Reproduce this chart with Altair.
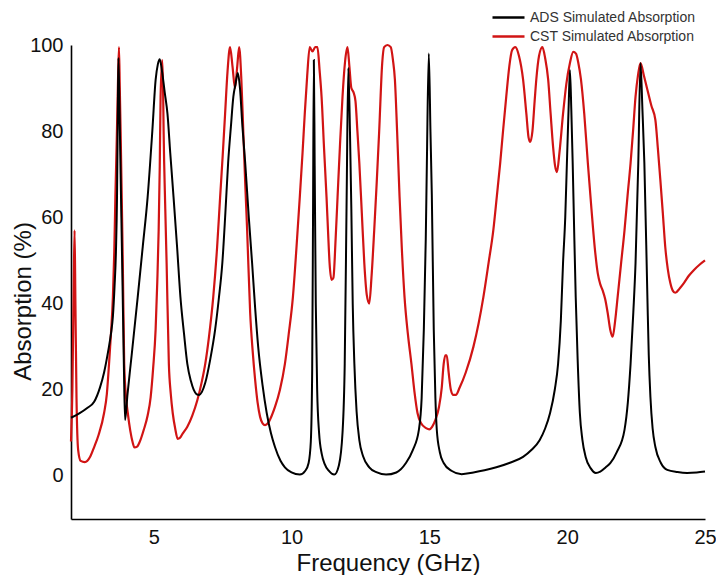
import altair as alt
import pandas as pd

ads_x = [2.0, 2.3, 2.6, 2.84, 3.05, 3.2, 3.35, 3.45, 3.52, 3.58, 3.63, 3.67, 3.7, 3.72, 3.76, 3.8, 3.86, 3.92, 3.96,
         4.05, 4.2, 4.42, 4.6, 4.78, 4.95, 5.07, 5.15, 5.22, 5.3, 5.4, 5.5, 5.6, 5.72, 5.85, 5.97, 6.1, 6.22,
         6.35, 6.45, 6.55, 6.65, 6.75, 6.87, 7.05, 7.23, 7.36, 7.49, 7.6, 7.7, 7.8, 7.89, 7.97, 8.05, 8.13,
         8.22, 8.32, 8.45, 8.57, 8.68, 8.79, 8.95, 9.1, 9.25, 9.4, 9.6, 9.76, 10.0, 10.3, 10.5, 10.62, 10.7,
         10.75, 10.78, 10.81, 10.84, 10.88, 10.93, 11.0, 11.1, 11.2, 11.35, 11.55, 11.72, 11.85, 11.93, 12.0,
         12.06, 12.12, 12.17, 12.22, 12.28, 12.36, 12.46, 12.6, 12.82, 13.1, 13.43, 13.8, 14.15, 14.4, 14.62,
         14.72, 14.8, 14.87, 14.91, 14.98, 15.04, 15.09, 15.16, 15.22, 15.27, 15.38, 15.52, 15.8, 16.17, 16.6,
         17.0, 17.43, 17.9, 18.4, 18.7, 19.0, 19.2, 19.38, 19.55, 19.67, 19.77, 19.85, 19.93, 19.99, 20.05,
         20.1, 20.15, 20.2, 20.25, 20.31, 20.38, 20.46, 20.55, 20.67, 20.85, 21.04, 21.2, 21.4, 21.57, 21.8,
         22.08, 22.2, 22.3, 22.4, 22.48, 22.58, 22.66, 22.73, 22.8, 22.91, 22.96, 23.02, 23.1, 23.2, 23.4,
         23.63, 24.0, 24.35, 24.7, 25.0]
ads_y = [13.5, 14.5, 15.8, 17.2, 20.5, 24, 29, 33, 37, 44, 52, 65, 85, 97, 85, 70, 48, 25, 13,
         19, 28, 41.5, 53, 64.7, 80, 91.9, 95.5, 96.7, 94, 89, 84, 75, 64.7, 53, 41.5, 33, 26,
         22, 20, 19, 18.8, 19.5, 21.6, 27, 34, 41, 49.4, 61, 72.6, 81, 88, 91, 93.5, 90,
         81, 72.6, 60, 49.4, 39, 30, 21, 14.6, 10, 6.7, 3.5, 2, 0.8, 0.3, 1.2, 3, 8,
         25, 60, 96.5, 72, 40, 20, 10, 5, 2.8, 1.2, 0.3, 2.5, 10, 26, 64.7,
         94.7, 80, 62, 40, 26, 15, 8.3, 4.5, 2, 0.8, 0.3, 0.8, 3, 6, 10.7,
         18, 34, 55, 72.6, 98, 80, 65, 34, 18, 10.7, 5.5, 3, 1.2, 0.4, 0.8,
         1.3, 2, 3, 4.4, 6, 8.3, 11, 14.6, 20, 26, 36, 49.4, 60, 72.6, 85,
         94.2, 85, 72.6, 58, 41.5, 27, 14.6, 8.5, 4.4, 1.8, 0.7, 1, 2, 3, 5.5,
         10.7, 17, 26, 38, 49.4, 72.6, 95.8, 85, 72.6, 41.5, 28, 18.3, 11, 6.7, 3,
         1.4, 0.9, 0.7, 0.8, 1.0]

cst_x = [2.0, 2.05, 2.1, 2.13, 2.16, 2.2, 2.26, 2.35, 2.5, 2.7, 2.84, 3.0, 3.2, 3.3, 3.38, 3.45, 3.52,
         3.57, 3.61, 3.66, 3.7, 3.74, 3.77, 3.8, 3.84, 3.88, 3.93, 4.0, 4.06, 4.15, 4.24, 4.3, 4.4, 4.5,
         4.64, 4.78, 4.89, 4.98, 5.07, 5.13, 5.18, 5.22, 5.25, 5.31, 5.34, 5.36, 5.42, 5.47, 5.55, 5.62,
         5.69, 5.78, 5.87, 5.95, 6.05, 6.22, 6.4, 6.58, 6.75, 6.87, 7.0, 7.16, 7.3, 7.41, 7.5, 7.59, 7.68,
         7.77, 7.86, 7.95, 8.03, 8.1, 8.18, 8.25, 8.32, 8.39, 8.5, 8.59, 8.68, 8.77, 8.86, 8.95, 9.04, 9.15,
         9.27, 9.4, 9.58, 9.76, 9.9, 10.05, 10.18, 10.3, 10.4, 10.48, 10.57, 10.66, 10.76, 10.86, 10.94,
         11.02, 11.09, 11.18, 11.27, 11.33, 11.38, 11.45, 11.52, 11.6, 11.67, 11.76, 11.85, 11.94, 12.03,
         12.1, 12.17, 12.25, 12.32, 12.39, 12.46, 12.55, 12.64, 12.73, 12.82, 12.9, 13.0, 13.09, 13.18,
         13.29, 13.36, 13.48, 13.6, 13.68, 13.75, 13.83, 13.92, 14.0, 14.1, 14.22, 14.35, 14.46, 14.57,
         14.7, 14.88, 15.0, 15.1, 15.22, 15.35, 15.45, 15.52, 15.58, 15.63, 15.7, 15.78, 15.87, 15.96,
         16.1, 16.32, 16.6, 16.96, 17.15, 17.32, 17.45, 17.57, 17.68, 17.79, 17.9, 18.0, 18.12, 18.25,
         18.4, 18.52, 18.6, 18.66, 18.74, 18.82, 18.88, 18.98, 19.1, 19.2, 19.31, 19.4, 19.49, 19.56,
         19.63, 19.72, 19.85, 19.97, 20.1, 20.22, 20.32, 20.4, 20.5, 20.62, 20.75, 20.88, 21.0, 21.11,
         21.2, 21.29, 21.38, 21.47, 21.56, 21.65, 21.74, 21.83, 21.95, 22.08, 22.19, 22.3, 22.39, 22.48,
         22.57, 22.66, 22.78, 22.91, 23.05, 23.2, 23.29, 23.38, 23.47, 23.56, 23.65, 23.74, 23.83, 23.92,
         24.08, 24.24, 24.42, 24.6, 24.8, 25.0]
cst_y = [8, 20, 45, 57, 40, 18, 6, 3.5, 3.2, 4.5, 6.7, 9.5, 14.6, 19, 26, 33, 41.5,
         52, 64.7, 78, 90, 99.5, 90, 80, 65, 49, 26, 18, 14.6, 10.5, 7.7, 6.6, 6.8, 8,
         10.7, 14, 18.3, 25, 34, 45, 57, 72, 88, 96.5, 90, 80, 62, 49, 26, 19,
         14.6, 11, 8.6, 8.8, 9.8, 11.4, 14, 17.5, 22, 26, 32, 41.5, 53, 64.7, 74, 84, 94,
         99.5, 95, 90, 95, 99.5, 92, 80, 68, 57, 37.8, 29, 22.3, 17, 13.7, 12.2, 11.8, 12.3,
         13.8, 16, 20, 26, 33, 41.5, 53, 64.7, 75, 84, 93, 99.5, 98.5, 99.5, 99.5,
         94, 88, 76, 64.7, 56, 49.4, 45.5, 46, 55, 64.7, 77, 88, 96, 99.5,
         95, 90, 89, 87, 80, 72.6, 61, 49.4, 42, 40, 46, 57, 68, 80,
         95.8, 99.5, 100, 99.5, 96.5, 92, 80, 64.7, 53, 41.5, 33, 26, 19.5, 14.6,
         12.2, 11.1, 10.8, 11.4, 13, 16, 20.5, 26, 28, 28, 24, 20, 18.8, 18.8,
         20.5, 24, 30, 41.5, 49.5, 57, 65, 72.6, 80.5, 88, 95, 98.8, 99.5, 97.5,
         92, 84, 78.5, 77.5, 80, 87, 92, 97.5, 99.5, 97, 92, 84, 76.3, 72,
         70.5, 75, 84, 91, 95.8, 98.4, 98, 96, 92, 84, 72.6, 62, 53, 47,
         44.5, 43, 41, 37.8, 34, 32.3, 36, 41.5, 49, 57, 65, 72.6, 80, 88,
         93, 95.8, 93, 89.6, 86, 82.6, 76, 68.7, 61, 53, 48, 44.8, 43, 42.5,
         43.5, 44.8, 46.5, 47.8, 49, 50]

series_names = ["ADS Simulated Absorption", "CST Simulated Absorption"]
series_colors = ["#000000", "#d11414"]
x_ticks = [5, 10, 15, 20, 25]
y_ticks = [0, 20, 40, 60, 80, 100]

ads = pd.DataFrame({"f": ads_x, "a": ads_y, "s": series_names[0]})
cst = pd.DataFrame({"f": cst_x, "a": cst_y, "s": series_names[1]})

FONT = "Liberation Sans"

x_enc = alt.X("f:Q", title="Frequency (GHz)",
              scale=alt.Scale(domain=[2, 25], nice=False, zero=False),
              axis=alt.Axis(values=x_ticks, format="d", labelPadding=8, titlePadding=4,
                            labelFlush=False))
y_enc = alt.Y("a:Q", title="Absorption (%)",
              scale=alt.Scale(domain=[-10, 100], nice=False),
              axis=alt.Axis(values=y_ticks, format="d", labelPadding=8,
                            titleX=-48, titleY=256, titleBaseline="middle", titleAlign="center"))
color_enc = alt.Color("s:N",
                      scale=alt.Scale(domain=series_names, range=series_colors),
                      legend=alt.Legend(title=None, orient="none", legendX=428, legendY=-37,
                                        symbolType="M-2,0L2,0", symbolSize=256, symbolStrokeWidth=2.5,
                                        labelFontSize=14, labelFont=FONT, labelColor="#333",
                                        labelLimit=400, rowPadding=2, labelOffset=12))

red = alt.Chart(cst).mark_line(strokeWidth=2.2, interpolate="monotone").encode(x=x_enc, y=y_enc, color=color_enc)
black = alt.Chart(ads).mark_line(strokeWidth=2, interpolate="monotone").encode(x=x_enc, y=y_enc, color=color_enc)

chart = alt.layer(red, black).properties(
    width=634, height=474,
    autosize=alt.AutoSizeParams(type="none"),
    padding={"left": 63, "top": 37, "right": 11, "bottom": 56},
    background="white",
).configure_view(stroke=None).configure_axis(
    grid=False, ticks=False, domainColor="#000", domainWidth=1.6,
    labelFont=FONT, labelFontSize=20, labelColor="#111",
    titleFont=FONT, titleFontSize=24, titleFontWeight="normal", titleColor="#111",
)

chart.save("out.html", embed_options={"renderer": "svg", "actions": False})
